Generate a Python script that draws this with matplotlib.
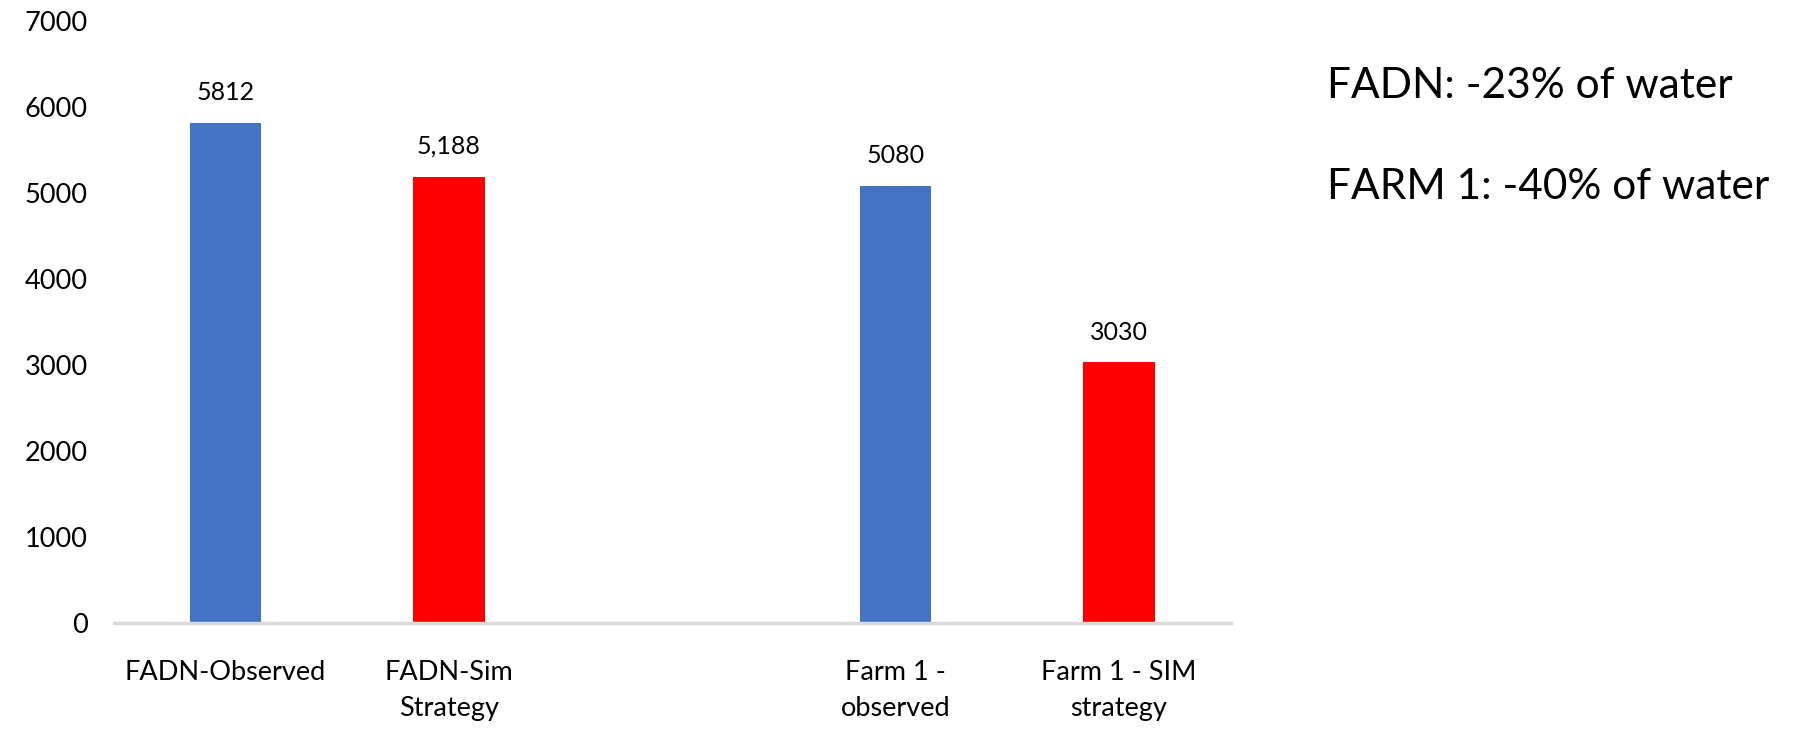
import matplotlib.pyplot as plt
import numpy as np

plt.rcParams['font.family'] = ['Lato', 'DejaVu Sans']

categories = ['FADN-Observed', 'FADN-Sim\nStrategy', '', 'Farm 1 -\nobserved', 'Farm 1 - SIM\nstrategy']
values = [5812, 5188, np.nan, 5080, 3030]
value_labels = ['5812', '5,188', '', '5080', '3030']
colors = ['#4472C4', '#FF0000', 'white', '#4472C4', '#FF0000']
notes = ['FADN: -23% of water', 'FARM 1: -40% of water']

fig = plt.figure(figsize=(17.94, 7.32), dpi=100)
ax = fig.add_axes([0.0635, 0.149, 0.6225, 0.822])

x = np.arange(len(categories))
bars = ax.bar(x, np.nan_to_num(values), width=0.32, color=colors, zorder=2)
for xi, v, lab in zip(x, values, value_labels):
    if lab:
        ax.text(xi, v + 220, lab, ha='center', va='bottom', fontsize=18)

ax.set_xlim(-0.5, 4.5)
ax.set_ylim(0, 7000)
ax.set_yticks(np.arange(0, 7001, 1000))
ax.set_xticks(x)
ax.set_xticklabels(categories, fontsize=19.5, linespacing=1.55)
ax.tick_params(axis='y', labelsize=19.5, length=0, pad=19)
ax.tick_params(axis='x', length=0, pad=27)
for s in ['top', 'right', 'left']:
    ax.spines[s].set_visible(False)
ax.spines['bottom'].set_color('#d9d9d9')
ax.spines['bottom'].set_linewidth(2.5)
ax.spines['bottom'].set_zorder(3)

fig.text(0.7397, 0.882, notes[0], fontsize=30.5, va='center', ha='left')
fig.text(0.7397, 0.745, notes[1], fontsize=30.5, va='center', ha='left')

fig.savefig('out.png', dpi=100)
